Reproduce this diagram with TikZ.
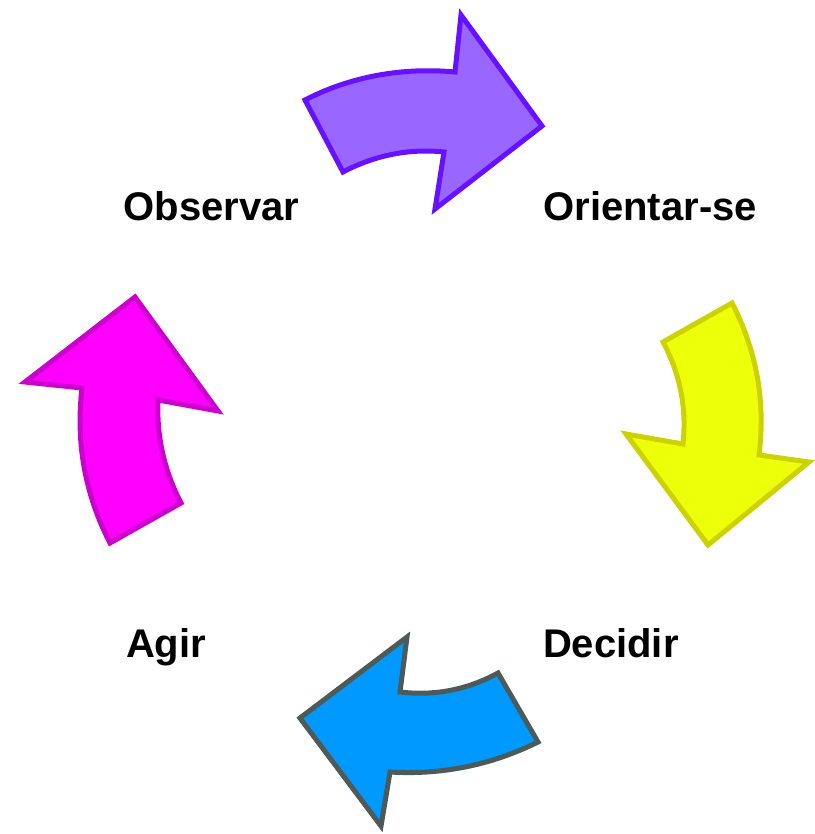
\documentclass[tikz,border=0pt]{standalone}
\usepackage{fontspec}
\setmainfont{Liberation Sans}
\definecolor{purpfill}{HTML}{9966FF}
\definecolor{purpline}{HTML}{6611FF}
\definecolor{yelfill}{HTML}{EEFF0A}
\definecolor{yelline}{HTML}{CCD100}
\definecolor{bluefill}{HTML}{0099FF}
\definecolor{blueline}{HTML}{4D5A5A}
\definecolor{magfill}{HTML}{FF00FF}
\definecolor{magline}{HTML}{CC00CC}
\begin{document}
\begin{tikzpicture}[x=1pt,y=-1pt,
  arrowshape/.style={line width=5pt,line join=miter,miter limit=10},
  label/.style={inner sep=0pt,outer sep=0pt,anchor=base west,font=\fontsize{40}{40}\selectfont\bfseries}]
\useasboundingbox (0,0) rectangle (814,834);
% top arrow (Observar -> Orientar-se)
\draw[arrowshape,fill=purpfill,draw=purpline]
  (305,100) .. controls (351.1,76.1) and (403.3,67.2) .. (455,72)
  -- (461,15) -- (542,126) -- (435,209) -- (444,152)
  .. controls (409.1,148.2) and (374.0,155.5) .. (343,172) -- cycle;
% right arrow
\draw[arrowshape,fill=yelfill,draw=yelline]
  (732,303) .. controls (756.7,350.9) and (765.7,401.5) .. (759,455)
  -- (809,462) -- (708,545) -- (626,434) -- (683,444)
  .. controls (686.8,407.9) and (680.1,373.9) .. (663,342) -- cycle;
% bottom arrow
\draw[arrowshape,fill=bluefill,draw=blueline]
  (538,742) .. controls (491.3,765.1) and (442,775.1) .. (390,772)
  -- (381,826) -- (300,718) -- (407,637) -- (400,692)
  .. controls (434.7,696.1) and (467.3,689.8) .. (498,673) -- cycle;
% left arrow
\draw[arrowshape,fill=magfill,draw=magline]
  (110,543) .. controls (84.9,494.2) and (75.6,442.5) .. (82,388)
  -- (25,382) -- (135,297) -- (218,411) -- (158,400)
  .. controls (156.5,436.4) and (164.2,470.7) .. (181,503) -- cycle;
\node[label] (obs) at (123.5,221) {Observar};
\node[label] (ori) at (543.5,221) {Orientar-se};
\node[label] (dec) at (543,657) {Decidir};
\node[label] (agi) at (126,657) {Agir};
\end{tikzpicture}
\end{document}
